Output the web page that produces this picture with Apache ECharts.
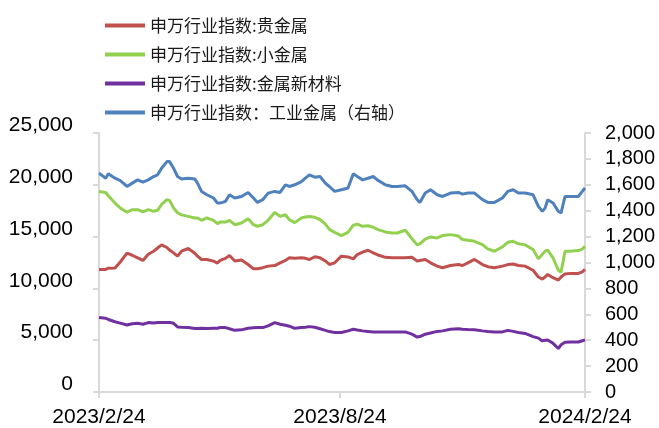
<!DOCTYPE html>
<html>
<head>
<meta charset="utf-8">
<script src="https://cdn.jsdelivr.net/npm/echarts@6/dist/echarts.min.js"></script>
<style>
html,body{margin:0;padding:0;background:#fff;}
#chart{width:659px;height:428px;}
</style>
</head>
<body>
<div id="chart"></div>
<script>
const seriesNames = ['申万行业指数:贵金属', '申万行业指数:小金属', '申万行业指数:金属新材料', '申万行业指数：工业金属（右轴）'];
const xTickLabels = ['2023/2/24', '2023/8/24', '2024/2/24'];
const leftTicks = [0, 5000, 10000, 15000, 20000, 25000];
const rightTicks = [0, 200, 400, 600, 800, 1000, 1200, 1400, 1600, 1800, 2000];

const dates = [
  '2023-02-24','2023-03-01','2023-03-03','2023-03-08','2023-03-12','2023-03-17','2023-03-21','2023-03-25','2023-03-29','2023-04-02',
  '2023-04-06','2023-04-09','2023-04-12','2023-04-16','2023-04-18','2023-04-21','2023-04-24','2023-04-27','2023-05-02','2023-05-07',
  '2023-05-09','2023-05-12','2023-05-16','2023-05-21','2023-05-24','2023-05-26','2023-05-30','2023-06-02','2023-06-06','2023-06-11',
  '2023-06-16','2023-06-20','2023-06-23','2023-06-27','2023-07-01','2023-07-06','2023-07-10','2023-07-14','2023-07-17','2023-07-21',
  '2023-07-26','2023-07-29','2023-08-01','2023-08-05','2023-08-09','2023-08-13','2023-08-16','2023-08-20','2023-08-25','2023-08-30',
  '2023-09-03','2023-09-06','2023-09-10','2023-09-14','2023-09-18','2023-09-21','2023-09-27','2023-10-02','2023-10-06','2023-10-12',
  '2023-10-17','2023-10-21','2023-10-23','2023-10-27','2023-10-31','2023-11-05','2023-11-09','2023-11-15','2023-11-21','2023-11-24',
  '2023-11-28','2023-12-03','2023-12-09','2023-12-13','2023-12-18','2023-12-24','2023-12-28','2024-01-01','2024-01-05','2024-01-10',
  '2024-01-16','2024-01-20','2024-01-23','2024-01-25','2024-01-27','2024-01-31','2024-02-04','2024-02-06','2024-02-09','2024-02-13',
  '2024-02-19','2024-02-22','2024-02-24'
];

const preciousMetals = [
  11827,11827,11950,11960,12550,13400,13200,12950,12700,13300,
  13590,13900,14200,13950,13700,13430,13110,13590,13850,13400,
  13110,12790,12790,12630,12450,12700,12900,13170,12650,12750,
  12310,11890,11890,12000,12150,12200,12470,12700,12950,12900,
  12950,12900,12790,13050,12950,12650,12310,12470,13110,13040,
  12850,13270,13500,13680,13430,13250,13000,12950,12950,12950,
  13000,12630,12700,12790,12470,12150,11990,12210,12310,12210,
  12470,12800,12300,12100,12000,12150,12300,12350,12210,12150,
  11750,11100,10900,11100,11350,11030,10800,11100,11400,11450,
  11450,11600,11830
];

const minorMetals = [
  19357,19260,18950,18240,17760,17350,17600,17600,17380,17600,
  17440,17540,18100,18560,18500,17760,17300,17100,16950,16800,
  16800,16570,16800,16570,16250,16400,16400,16570,16150,16310,
  16730,16150,16000,16150,16570,17340,16950,17110,16630,16350,
  16790,16900,16950,16860,16650,16200,15700,15400,15100,15410,
  16100,16200,15990,16050,15900,15700,15450,15350,15350,15610,
  14800,14200,14300,14750,14970,14870,15100,15190,15050,14710,
  14650,14550,14230,13810,13590,14010,14450,14550,14300,14200,
  13750,12850,13300,13600,13700,12950,11750,11550,13590,13590,
  13650,13800,14070
];

const newMaterials = [
  7180,7120,7000,6780,6650,6470,6580,6630,6540,6700,
  6650,6700,6700,6700,6720,6630,6280,6250,6220,6120,
  6120,6150,6120,6150,6150,6220,6220,6100,5950,6000,
  6150,6200,6220,6220,6380,6700,6540,6450,6350,6150,
  6220,6250,6310,6250,6100,5950,5830,5750,5740,5900,
  6060,5980,5900,5850,5800,5800,5800,5800,5800,5800,
  5580,5300,5350,5580,5700,5850,5900,6060,6100,6060,
  6030,6000,5900,5850,5800,5800,5950,5850,5740,5650,
  5350,5200,4930,5000,5030,4700,4200,4550,4800,4830,
  4830,4950,5030
];

const industrialMetals = [
  1690,1651,1685,1651,1633,1587,1613,1638,1621,1638,
  1664,1677,1728,1779,1779,1728,1664,1644,1651,1644,
  1613,1549,1523,1498,1459,1459,1472,1523,1498,1510,
  1541,1498,1464,1485,1536,1549,1541,1600,1587,1600,
  1625,1651,1677,1659,1664,1613,1587,1549,1562,1575,
  1685,1664,1638,1651,1664,1638,1600,1587,1587,1592,
  1549,1485,1464,1536,1562,1523,1510,1536,1541,1528,
  1536,1536,1485,1464,1464,1498,1549,1562,1536,1536,
  1523,1433,1395,1420,1485,1459,1395,1382,1510,1510,
  1510,1549,1575
];

const colors = ['#C0504D', '#92D050', '#7030A0', '#4F81BD'];

function toTime(s) {
  const p = s.split(/[-\/]/).map(Number);
  return new Date(p[0], p[1] - 1, p[2]).getTime();
}
function pairs(vals) { return dates.map((d, i) => [toTime(d), vals[i]]); }
function fmtThousands(v) { return String(v).replace(/\B(?=(\d{3})+(?!\d))/g, ','); }
function fmtDate(v) { const d = new Date(v); return d.getFullYear() + '/' + (d.getMonth() + 1) + '/' + d.getDate(); }

const tickTimes = xTickLabels.map(toTime);
const font = 'Liberation Sans, Arial, sans-serif';
const axisLineStyle = { color: '#D9D9D9', width: 2 };

const chart = echarts.init(document.getElementById('chart'), null, { renderer: 'canvas' });
chart.setOption({
  animation: false,
  backgroundColor: '#fff',
  color: colors,
  legend: {
    orient: 'vertical',
    left: 100,
    top: 12,
    itemWidth: 40,
    itemHeight: 4,
    itemGap: 12,
    icon: 'rect',
    textStyle: { fontSize: 17, color: '#1a1a1a', fontFamily: 'Noto Sans CJK SC, sans-serif' },
    data: seriesNames
  },
  grid: { left: 99, right: 74, top: 133, bottom: 35 },
  xAxis: {
    type: 'value',
    min: tickTimes[0],
    max: tickTimes[2],
    axisLine: { lineStyle: axisLineStyle },
    axisTick: { show: true, customValues: tickTimes, length: 6, lineStyle: axisLineStyle },
    axisLabel: { customValues: tickTimes, formatter: fmtDate, fontSize: 21, color: '#000', fontFamily: font, margin: 15 },
    splitLine: { show: false }
  },
  yAxis: [
    {
      type: 'value', min: leftTicks[0], max: leftTicks[leftTicks.length - 1], interval: leftTicks[1] - leftTicks[0],
      axisLine: { show: true, lineStyle: axisLineStyle },
      axisTick: { show: true, length: 6, lineStyle: axisLineStyle },
      axisLabel: { formatter: fmtThousands, fontSize: 21, color: '#000', fontFamily: font, margin: 26, verticalAlign: 'bottom', lineHeight: 15 },
      splitLine: { show: false }
    },
    {
      type: 'value', min: rightTicks[0], max: rightTicks[rightTicks.length - 1], interval: rightTicks[1] - rightTicks[0],
      axisLine: { show: true, lineStyle: axisLineStyle },
      axisTick: { show: true, length: 6, lineStyle: axisLineStyle },
      axisLabel: { formatter: fmtThousands, fontSize: 20, color: '#000', fontFamily: font, margin: 20 },
      splitLine: { show: false }
    }
  ],
  series: [
    { name: seriesNames[0], type: 'line', yAxisIndex: 0, data: pairs(preciousMetals), showSymbol: false, lineStyle: { width: 3 } },
    { name: seriesNames[1], type: 'line', yAxisIndex: 0, data: pairs(minorMetals), showSymbol: false, lineStyle: { width: 3 } },
    { name: seriesNames[2], type: 'line', yAxisIndex: 0, data: pairs(newMaterials), showSymbol: false, lineStyle: { width: 3 } },
    { name: seriesNames[3], type: 'line', yAxisIndex: 1, data: pairs(industrialMetals), showSymbol: false, lineStyle: { width: 3 } }
  ]
});
</script>
</body>
</html>
